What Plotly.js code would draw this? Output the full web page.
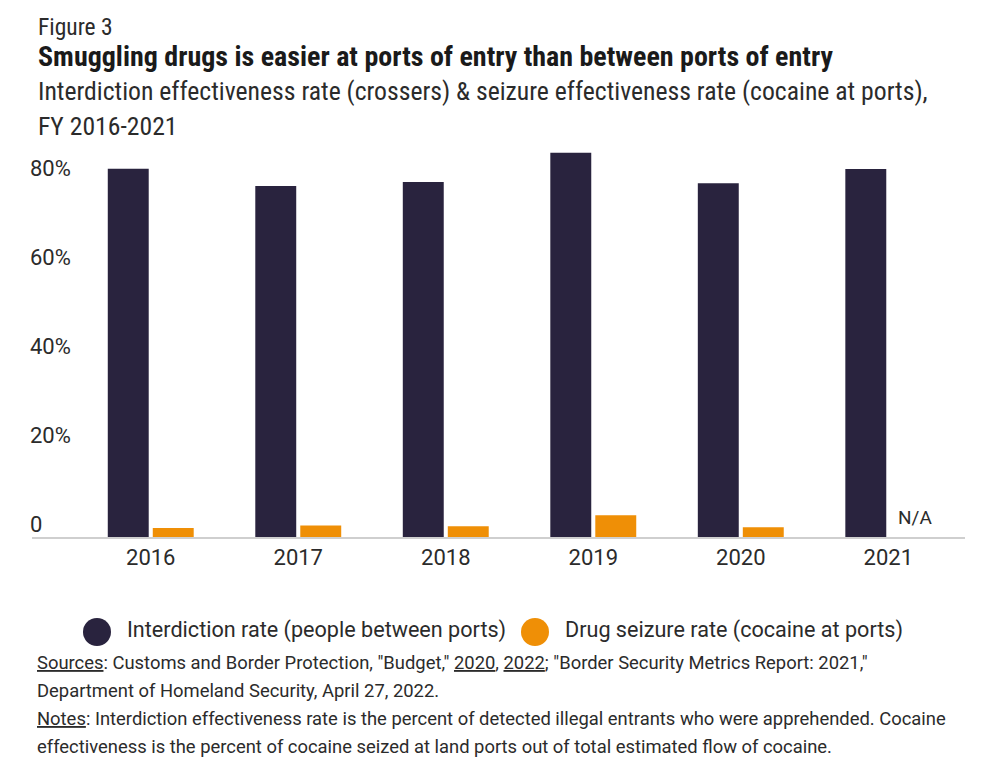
<!DOCTYPE html>
<html>
<head>
<meta charset="utf-8">
<script src="https://cdn.plot.ly/plotly-3.0.1.min.js"></script>
<style>
html,body{margin:0;padding:0;background:#fff;}
#chart{width:1000px;height:764px;}
</style>
</head>
<body>
<div id="chart"></div>
<script>
// ---- data ----
const years = ['2016', '2017', '2018', '2019', '2020', '2021'];
const interdictionRate = [82.9, 79.0, 79.9, 86.5, 79.6, 82.8];
const seizureRate = [2.0, 2.6, 2.4, 4.9, 2.2, null];
const yTickVals = [0, 20, 40, 60, 80];
const yTickText = ['0', '20%', '40%', '60%', '80%'];
const seriesNames = ['Interdiction rate (people between ports)', 'Drug seizure rate (cocaine at ports)'];
const naLabel = 'N/A';

// ---- style ----
const DARK = '#29233e';
const ORANGE = '#ef8f06';
const TEXT = '#2b2b2b';
const NARROW = '"Liberation Sans Narrow", "Roboto Condensed", "DejaVu Sans Condensed", Roboto, sans-serif';
const SANS = 'Roboto, "Noto Sans", sans-serif';

// plot area in pixels
const L = 32, R = 965, T = 146, B = 537;
const px = p => (p - L) / (R - L);
const py = p => (B - p) / (B - T);

const traces = [
  {type: 'bar', x: years, y: interdictionRate, name: seriesNames[0],
   marker: {color: DARK}, showlegend: false, hoverinfo: 'x+y'},
  {type: 'bar', x: years, y: seizureRate, name: seriesNames[1],
   marker: {color: ORANGE}, showlegend: false, hoverinfo: 'x+y'}
];

const ann = (x, y, text, size, family, extra) => Object.assign({
  xref: 'paper', yref: 'paper', x: px(x), y: py(y), text: text,
  xanchor: 'left', yanchor: 'middle', showarrow: false, align: 'left',
  font: {family: family, size: size, color: TEXT}
}, extra || {});

const annotations = [
  ann(36, 27, 'Figure 3', 23.5, NARROW),
  ann(36, 57, '<b>Smuggling drugs is easier at ports of entry than between ports of entry</b>', 28, NARROW, {font: {family: NARROW, size: 28, color: '#1a1a1a'}}),
  ann(36, 91, 'Interdiction effectiveness rate (crossers) &amp; seizure effectiveness rate (cocaine at ports),', 25.7, NARROW),
  ann(36, 126, 'FY 2016-2021', 25.7, NARROW),
  ann(125, 630, seriesNames[0], 21.6, SANS),
  ann(563, 630, seriesNames[1], 21.6, SANS),
  ann(35, 662, '<u>Sources</u>: Customs and Border Protection, "Budget," <u>2020</u>, <u>2022</u>; "Border Security Metrics Report: 2021,"', 18.4, SANS),
  ann(35, 690, 'Department of Homeland Security, April 27, 2022.', 18.4, SANS),
  ann(35, 718, '<u>Notes</u>: Interdiction effectiveness rate is the percent of detected illegal entrants who were apprehended. Cocaine', 18.4, SANS),
  ann(35, 746, 'effectiveness is the percent of cocaine seized at land ports out of total estimated flow of cocaine.', 18.4, SANS),
  {xref: 'x', yref: 'y', x: years.indexOf('2021'), y: 0, text: naLabel, showarrow: false,
   xanchor: 'center', yanchor: 'bottom', xshift: 27, yshift: 6,
   font: {family: SANS, size: 19, color: TEXT}}
];

const circle = (cx, cy, color) => ({
  type: 'circle', xref: 'paper', yref: 'paper', xsizemode: 'pixel', ysizemode: 'pixel',
  xanchor: px(cx), yanchor: py(cy), x0: -14, x1: 14, y0: -14, y1: 14,
  fillcolor: color, line: {width: 0}
});

const layout = {
  width: 1000, height: 764,
  margin: {l: L, r: 1000 - R, t: T, b: 764 - B, pad: 0},
  paper_bgcolor: '#fff', plot_bgcolor: '#fff',
  barmode: 'group', bargap: 0.39, bargroupgap: 0.09,
  showlegend: false,
  xaxis: {
    type: 'category', range: [-0.805, 5.52], fixedrange: true,
    showline: true, linecolor: '#cfcfcf', linewidth: 2,
    showgrid: false, zeroline: false, ticks: '',
    tickfont: {family: SANS, size: 22, color: TEXT},
    ticklabelstandoff: 0
  },
  yaxis: {
    range: [0, 88], fixedrange: true,
    showline: false, showgrid: false, zeroline: false, ticks: '',
    tickvals: yTickVals, ticktext: yTickText,
    ticklabelposition: 'inside', ticklabelshift: -13, ticklabelstandoff: -5,
    tickfont: {family: SANS, size: 22, color: TEXT}
  },
  annotations: annotations,
  shapes: [circle(97, 632, DARK), circle(535, 632, ORANGE)]
};

Plotly.newPlot('chart', traces, layout, {displayModeBar: false, staticPlot: true});
</script>
</body>
</html>
